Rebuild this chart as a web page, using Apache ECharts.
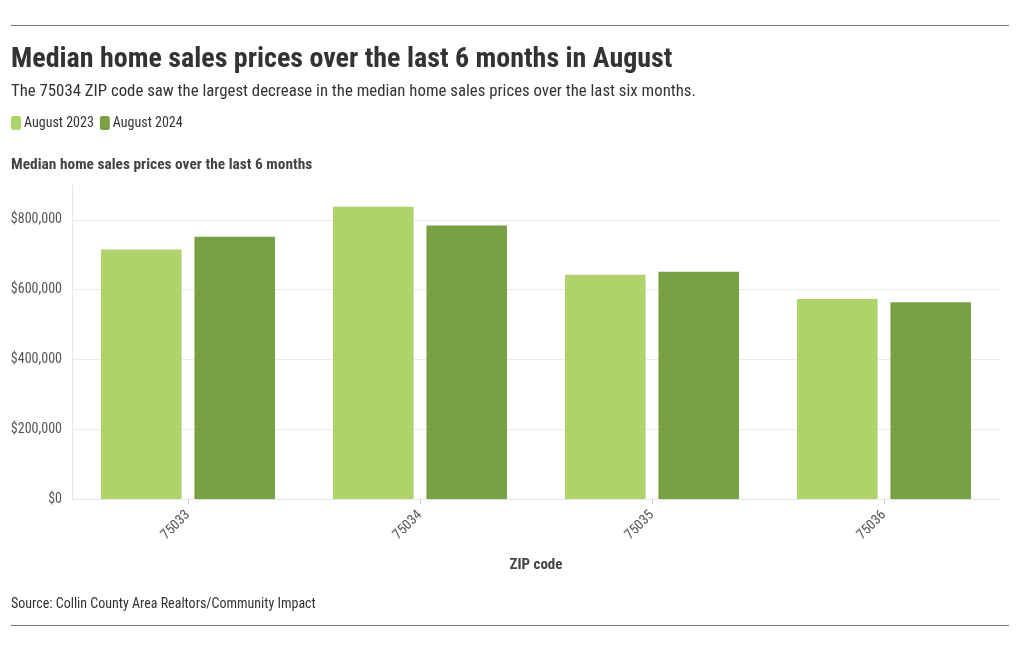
<!DOCTYPE html>
<html><head><meta charset="utf-8">
<script src="https://cdn.jsdelivr.net/npm/echarts@6/dist/echarts.min.js"></script>
<style>html,body{margin:0;padding:0;background:#fff}#c{width:1020px;height:650px}</style>
</head><body><div id="c"></div>
<script>
const categories = ['75033', '75034', '75035', '75036'];
const aug2023 = [715000, 838000, 643000, 573000];
const aug2024 = [752000, 784000, 651000, 564000];
const seriesNames = ['August 2023', 'August 2024'];

const FONT = '"Roboto Condensed","Liberation Sans Narrow","Arial Narrow",Roboto,sans-serif';
const chart = echarts.init(document.getElementById('c'));
chart.setOption({
  animation: false,
  textStyle: { fontFamily: FONT },
  color: ['#aed36b', '#79a042'],
  title: [
    { text: 'Median home sales prices over the last 6 months in August', left: 6, top: 41,
      textStyle: { fontFamily: FONT, fontSize: 28, fontWeight: 'bold', color: '#333' } },
    { text: 'The 75034 ZIP code saw the largest decrease in the median home sales prices over the last six months.', left: 6, top: 78,
      textStyle: { fontFamily: FONT, fontSize: 16.8, fontWeight: 'normal', color: '#333' } },
    { text: 'Median home sales prices over the last 6 months', left: 6, top: 153,
      textStyle: { fontFamily: FONT, fontSize: 15.4, fontWeight: 'bold', color: '#444' } },
    { text: 'Source: Collin County Area Realtors/Community Impact', left: 6, top: 592,
      textStyle: { fontFamily: FONT, fontSize: 14, fontWeight: 'normal', color: '#333' } }
  ],
  legend: {
    left: 6, top: 111, itemWidth: 10, itemHeight: 14, itemGap: 6,
    icon: 'roundRect',
    textStyle: { fontFamily: FONT, fontSize: 14, color: '#333', padding: [0, 0, 0, -2] },
    data: seriesNames
  },
  graphic: [
    { type: 'line', shape: { x1: 11, y1: 25.5, x2: 1009, y2: 25.5 }, style: { stroke: '#777', lineWidth: 1 } },
    { type: 'line', shape: { x1: 11, y1: 625.5, x2: 1009, y2: 625.5 }, style: { stroke: '#777', lineWidth: 1 } }
  ],
  grid: { left: 72, right: 20, top: 185, bottom: 151, containLabel: false },
  xAxis: {
    type: 'category', data: categories,
    name: 'ZIP code', nameLocation: 'middle', nameGap: 59,
    nameTextStyle: { fontFamily: FONT, fontSize: 15, fontWeight: 'bold', color: '#444' },
    axisLine: { show: true, lineStyle: { color: '#e6e6e6' } },
    axisTick: { show: true, alignWithLabel: true, length: 5, lineStyle: { color: '#ccc' } },
    axisLabel: { rotate: 45, fontSize: 14, color: '#555', margin: 14 }
  },
  yAxis: {
    type: 'value', min: 0, max: 900000, interval: 200000,
    axisLine: { show: true, lineStyle: { color: '#e6e6e6' } },
    axisTick: { show: false },
    splitLine: { showMaxLine: false, lineStyle: { color: '#ebebeb' } },
    axisLabel: { showMaxLabel: false, fontSize: 14, color: '#555', margin: 10,
      formatter: v => '$' + v.toLocaleString('en-US') }
  },
  series: [
    { name: seriesNames[0], type: 'bar', data: aug2023, barGap: '16%', barCategoryGap: '25%' },
    { name: seriesNames[1], type: 'bar', data: aug2024, barGap: '16%', barCategoryGap: '25%' }
  ]
});
</script></body></html>
